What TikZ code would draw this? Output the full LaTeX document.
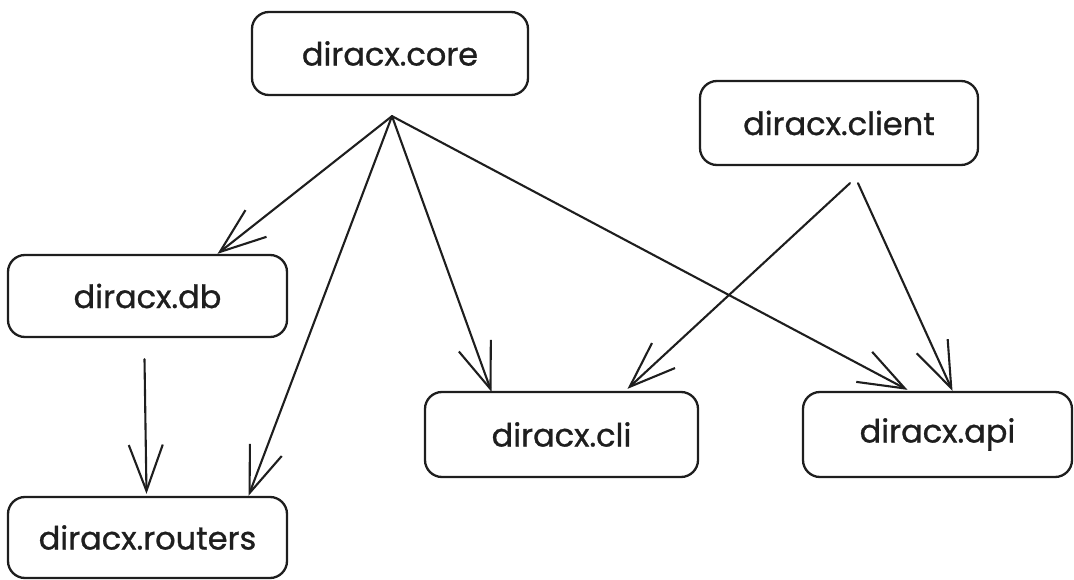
\documentclass[tikz,border=0pt]{standalone}
\usepackage{fontspec}
\setmainfont{Poppins}
\newfontfamily\labelfont{Poppins}[FakeBold=0.9]
\usetikzlibrary{arrows.meta,calc}
\definecolor{ink}{HTML}{1E1E1E}
\begin{document}
\begin{tikzpicture}[x=1pt,y=-1pt,
  module/.style={draw=ink, line width=2.3pt, rounded corners=17pt, inner sep=0pt,
    font=\labelfont\fontsize{32}{36}\selectfont, text=ink},
  dep/.style={draw=ink, line width=2.1pt, line cap=round,
    -{Straight Barb[length=46pt,width=34pt,line width=2.1pt]}},
]
\useasboundingbox (0,0) rectangle (1074,580);

% modules
\node[module, minimum width=276pt, minimum height=83pt] (core)    at (390,53.5)   {diracx.core};
\node[module, minimum width=278pt, minimum height=84pt] (client)  at (839,123)    {diracx.client};
\node[module, minimum width=279pt, minimum height=82pt] (db)      at (147.5,296)  {diracx.db};
\node[module, minimum width=279pt, minimum height=81pt] (routers) at (147.5,537.5){diracx.routers};
\node[module, minimum width=273pt, minimum height=85pt] (cli)     at (561.5,434.5){diracx.cli};
\node[module, minimum width=269pt, minimum height=85pt] (api)     at (937.5,434.5){diracx.api};

% arrow end points
\coordinate (hub)     at ($(core.south)+(2,20)$);
\coordinate (clientA) at ($(client.south)+(11,17)$);
\coordinate (clientB) at ($(client.south)+(19,17)$);
\coordinate (dbout)   at ($(db.south)+(-3,21)$);

% dependencies
\draw[dep] (hub) -- ($(db.north)+(70,0)$);
\draw[dep] (hub) -- ($(routers.north)+(101,0)$);
\draw[dep] (hub) -- ($(cli.north)+(-70,1)$);
\draw[dep] (hub) -- ($(api.north)+(-30,-1)$);
\draw[dep] (clientA) -- ($(cli.north)+(66,-2)$);
\draw[dep] (clientB) -- ($(api.north)+(15,0)$);
\draw[dep] (dbout) -- ($(routers.north)+(-1,-2)$);
\end{tikzpicture}
\end{document}
